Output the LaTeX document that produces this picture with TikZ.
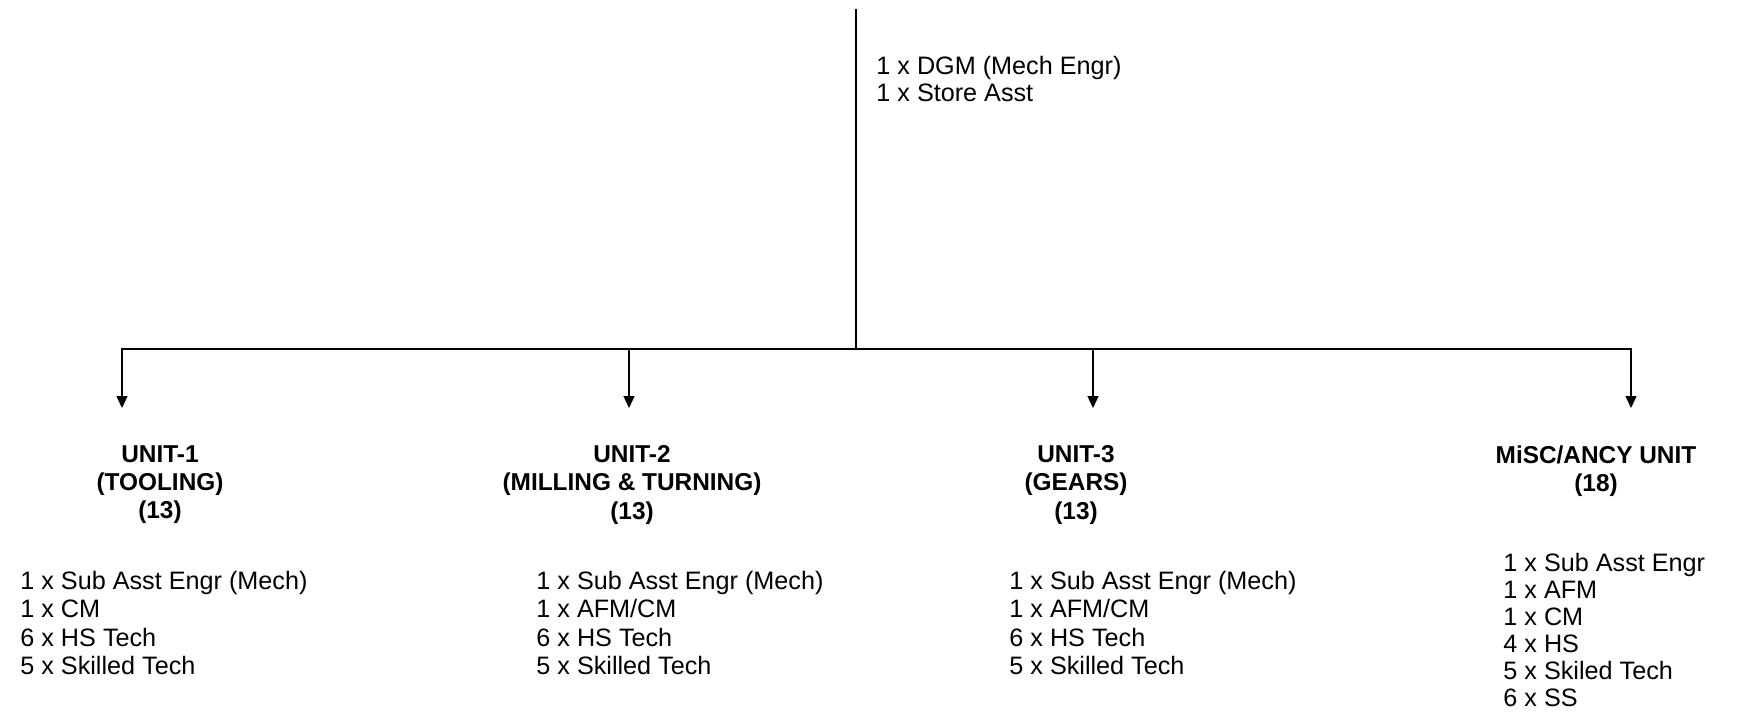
\documentclass[tikz,border=0pt]{standalone}
\usepackage{fontspec}
\setmainfont{Liberation Sans}
\usetikzlibrary{arrows.meta}
\begin{document}
\begin{tikzpicture}[x=0.5pt,y=-0.5pt,
  trunk/.style={line width=1pt},
  conn/.style={line width=0.7pt},
  arr/.style={conn,-{Triangle[width=5.5pt,length=6pt]}},
  head/.style={font=\fontsize{12.2}{14.2}\selectfont\bfseries,align=center,inner sep=0,anchor=north},
  list/.style={font=\fontsize{12.6}{14.1}\selectfont,align=left,inner sep=0,anchor=north west},
  list2/.style={list,font=\fontsize{12.6}{13.5}\selectfont}]
\useasboundingbox (0,0) rectangle (1746,713);
% connectors
\coordinate (top) at (856,9);
\coordinate (j) at (856,349);
\coordinate (a1) at (122,408);
\coordinate (a2) at (629,408);
\coordinate (a3) at (1093,408);
\coordinate (a4) at (1631,408);
\draw[trunk] (top) -- (j);
\draw[arr] (j) -| (a1);
\draw[arr] (j) -| (a2);
\draw[arr] (j) -| (a3);
\draw[arr] (j) -| (a4);
% top staff
\node[list2] (hq) at (876,56) {1 x DGM (Mech Engr)\\1 x Store Asst};
% unit headers
\node[head] (u1) at (160,445) {UNIT-1\\(TOOLING)\\(13)};
\node[head] (u2) at (632,445) {UNIT-2\\(MILLING \& TURNING)\\(13)};
\node[head] (u3) at (1076,445) {UNIT-3\\(GEARS)\\(13)};
\node[head] (u4) at (1596,445) {MiSC/ANCY UNIT\\(18)};
% staff lists
\node[list] (l1) at (20,571) {1 x Sub Asst Engr (Mech)\\1 x CM\\6 x HS Tech\\5 x Skilled Tech};
\node[list] (l2) at (536,571) {1 x Sub Asst Engr (Mech)\\1 x AFM/CM\\6 x HS Tech\\5 x Skilled Tech};
\node[list] (l3) at (1009,571) {1 x Sub Asst Engr (Mech)\\1 x AFM/CM\\6 x HS Tech\\5 x Skilled Tech};
\node[list2] (l4) at (1503,553) {1 x Sub Asst Engr\\1 x AFM\\1 x CM\\4 x HS\\5 x Skiled Tech\\6 x SS};
\end{tikzpicture}
\end{document}
